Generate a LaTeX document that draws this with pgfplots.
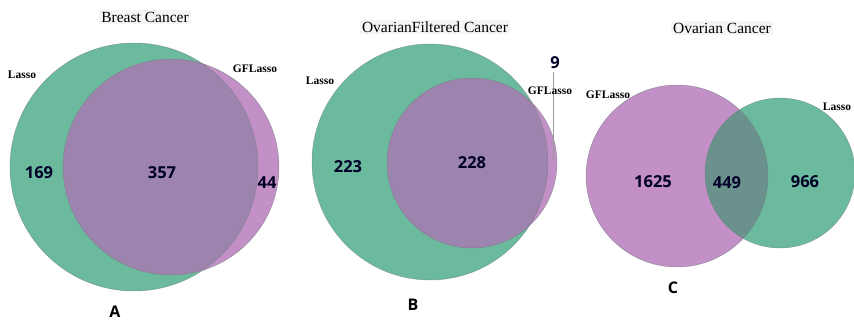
\documentclass[border=0pt]{standalone}
\usepackage{pgfplots}
\pgfplotsset{compat=1.18}
\usepackage{pgfplotstable}
\usepackage{fontspec}
\setmainfont{Liberation Serif}
\newfontfamily\numfont{Open Sans}
\definecolor{vgreen}{HTML}{6BBA9E}
\definecolor{vpurple}{HTML}{C28FC6}
\definecolor{vovlAB}{HTML}{9C84AE}
\definecolor{vovlC}{HTML}{6A918C}
\definecolor{vedge}{HTML}{6F7F7A}

% count labels: x y count
\pgfplotstableread{
x y label
39 149 169
162 149 357
267 139 44
}\tabA
\pgfplotstableread{
x y label
348 155 223
472 159 228
555 259 9
}\tabB
\pgfplotstableread{
x y label
653 140 1625
727 139 449
805 140 966
}\tabC

\begin{document}
\begin{tikzpicture}
\begin{axis}[
  x=1pt, y=1pt,
  xmin=0, xmax=854, ymin=0, ymax=322,
  hide axis, clip=false,
]
% ---- Panel A
\fill[vgreen] (axis cs:134,155) circle[radius=124];
\fill[vpurple] (axis cs:171,155) circle[radius=108];
\begin{scope}
\clip (axis cs:134,155) circle[radius=124];
\fill[vovlAB] (axis cs:171,155) circle[radius=108];
\end{scope}
\draw[vedge, line width=0.5pt, opacity=0.6] (axis cs:134,155) circle[radius=124];
\draw[vedge, line width=0.5pt, opacity=0.6] (axis cs:171,155) circle[radius=108];
% ---- Panel B
\fill[vgreen] (axis cs:430,160) circle[radius=118];
\fill[vpurple] (axis cs:472,159) circle[radius=85];
\begin{scope}
\clip (axis cs:430,160) circle[radius=118];
\fill[vovlAB] (axis cs:472,159) circle[radius=85];
\end{scope}
\draw[vedge, line width=0.5pt, opacity=0.6] (axis cs:430,160) circle[radius=118];
\draw[vedge, line width=0.5pt, opacity=0.6] (axis cs:472,159) circle[radius=85];
\draw[gray!80, line width=0.9pt] (axis cs:553,250) -- (axis cs:553,160);
% ---- Panel C
\fill[vpurple] (axis cs:677,146) circle[radius=91];
\fill[vgreen] (axis cs:780,149) circle[radius=75];
\begin{scope}
\clip (axis cs:677,146) circle[radius=91];
\fill[vovlC] (axis cs:780,149) circle[radius=75];
\end{scope}
\draw[vedge, line width=0.5pt, opacity=0.6] (axis cs:677,146) circle[radius=91];
\draw[vedge, line width=0.5pt, opacity=0.6] (axis cs:780,149) circle[radius=75];

% count labels
\pgfplotsset{cnt/.style={only marks, mark=none, nodes near coords, point meta=explicit symbolic,
  nodes near coords style={anchor=center, font=\numfont\bfseries\fontsize{16.5}{16.5}\selectfont, text=black!85!blue}}}
\addplot[cnt] table[x=x, y=y, meta=label] {\tabA};
\addplot[cnt] table[x=x, y=y, meta=label] {\tabB};
\addplot[cnt] table[x=x, y=y, meta=label] {\tabC};

% titles
\node[font=\fontsize{15.5}{15.5}\selectfont, fill=black!4, inner sep=2pt] at (axis cs:145,305) {Breast Cancer};
\node[font=\fontsize{15.5}{15.5}\selectfont, fill=black!4, inner sep=2pt] at (axis cs:435,295) {OvarianFiltered Cancer};
\node[font=\fontsize{15.5}{15.5}\selectfont, fill=black!4, inner sep=2pt] at (axis cs:722,294) {Ovarian Cancer};
% set names
\node[font=\bfseries\fontsize{11.5}{11.5}\selectfont] at (axis cs:22,247) {Lasso};
\node[font=\bfseries\fontsize{11.5}{11.5}\selectfont] at (axis cs:255,253) {GFLasso};
\node[font=\bfseries\fontsize{11.5}{11.5}\selectfont] at (axis cs:320,241) {Lasso};
\node[font=\bfseries\fontsize{11.5}{11.5}\selectfont] at (axis cs:550,231) {GFLasso};
\node[font=\bfseries\fontsize{11.5}{11.5}\selectfont] at (axis cs:608,227) {GFLasso};
\node[font=\bfseries\fontsize{11.5}{11.5}\selectfont] at (axis cs:837,215) {Lasso};
% panel letters
\node[font=\numfont\bfseries\fontsize{16}{16}\selectfont] at (axis cs:115,10) {A};
\node[font=\numfont\bfseries\fontsize{16}{16}\selectfont] at (axis cs:413,17) {B};
\node[font=\numfont\bfseries\fontsize{16}{16}\selectfont] at (axis cs:673,34) {C};
\path (axis cs:0,0) rectangle (axis cs:854,322);
\end{axis}
\pgfresetboundingbox
\path[use as bounding box] (current axis.south west) rectangle (current axis.north east);
\end{tikzpicture}
\end{document}
